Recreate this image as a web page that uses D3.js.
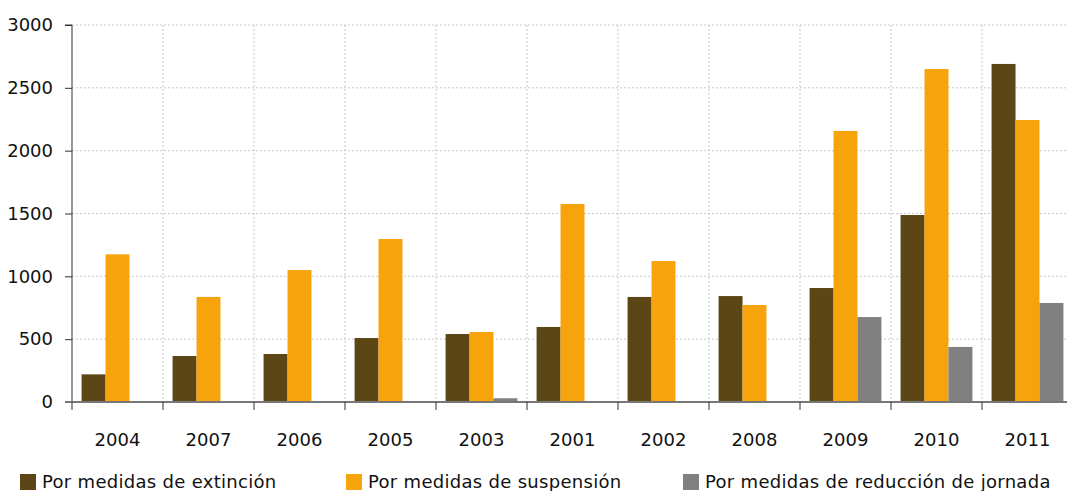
<!DOCTYPE html>
<html><head><meta charset="utf-8">
<script src="https://cdn.jsdelivr.net/npm/d3@7"></script>
<style>body{margin:0;background:#fff;overflow:hidden}svg{display:block;font-family:"DejaVu Sans",sans-serif}</style>
</head><body><svg id="c" width="1067" height="491"></svg>
<script>
const categories = ["2004","2007","2006","2005","2003","2001","2002","2008","2009","2010","2011"];
const extincion  = [220, 366, 382, 509, 541, 597, 836, 843, 907, 1488, 2690];
const suspension = [1175, 836, 1050, 1297, 557, 1576, 1122, 772, 2157, 2650, 2244];
const reduccion  = [0, 0, 0, 0, 30, 0, 0, 0, 676, 438, 788];
const seriesNames = ["Por medidas de extinción","Por medidas de suspensión","Por medidas de reducción de jornada"];
const colors = ["#5c4616","#f7a30c","#808080"];
const yTicks = [0,500,1000,1500,2000,2500,3000];

const svg = d3.select("#c");
const L = 72, R = 1073, T = 25, B = 402;
const x = d3.scaleBand().domain(categories).range([L, R]);
const y = d3.scaleLinear().domain([0,3000]).range([B, T]);
const keys = [0,1,2];
const xs = d3.scaleBand().domain(keys).range([0, x.bandwidth()]).paddingInner(0).paddingOuter(0.4);
const data = [extincion, suspension, reduccion];

// gridlines
svg.append("g").selectAll("line").data(yTicks.filter(d=>d>0)).join("line")
  .attr("x1",L).attr("x2",R).attr("y1",d=>y(d)).attr("y2",d=>y(d))
  .attr("stroke","#c8c8c8").attr("stroke-dasharray","2,2");
svg.append("g").selectAll("line").data(categories.slice(1)).join("line")
  .attr("x1",d=>x(d)).attr("x2",d=>x(d)).attr("y1",T).attr("y2",B)
  .attr("stroke","#c8c8c8").attr("stroke-dasharray","2,2");

// bars
categories.forEach((c,i)=>{
  keys.forEach(k=>{
    const v = data[k][i];
    if(v<=0) return;
    svg.append("rect").attr("x",x(c)+xs(k)).attr("width",xs.bandwidth())
      .attr("y",y(v)).attr("height",B-y(v)).attr("fill",colors[k]);
  });
});

// y axis
const ya = svg.append("g").attr("transform",`translate(${L},0)`)
  .call(d3.axisLeft(y).tickValues(yTicks).tickSize(7).tickPadding(12).tickFormat(d3.format("d")));
ya.select(".domain").attr("stroke","#333").attr("d",`M-7,${T}H0V${B}`);
ya.selectAll(".tick line").attr("stroke","#333");
ya.selectAll("text").attr("font-size",18).attr("fill","#111").attr("font-family","DejaVu Sans");

// x axis
const xa = svg.append("g").attr("transform",`translate(0,${B})`);
xa.append("line").attr("x1",L-7).attr("x2",R).attr("stroke","#777").attr("stroke-width",2);
xa.selectAll("line.t").data(categories.map(c=>x(c))).join("line").attr("class","t")
  .attr("x1",d=>d).attr("x2",d=>d).attr("y1",0).attr("y2",8).attr("stroke","#333");
xa.selectAll("text").data(categories).join("text")
  .attr("x",d=>x(d)+x.bandwidth()/2).attr("y",44).attr("text-anchor","middle")
  .attr("font-size",18).attr("fill","#111").text(d=>d);

// legend
const legX = [20, 346, 683];
const lg = svg.append("g");
seriesNames.forEach((n,i)=>{
  lg.append("rect").attr("x",legX[i]).attr("y",474).attr("width",16).attr("height",16).attr("fill",colors[i]);
  lg.append("text").attr("x",legX[i]+22).attr("y",488).attr("font-size",18).attr("fill","#111")
    .attr("letter-spacing",0.3).text(n);
});
</script></body></html>
